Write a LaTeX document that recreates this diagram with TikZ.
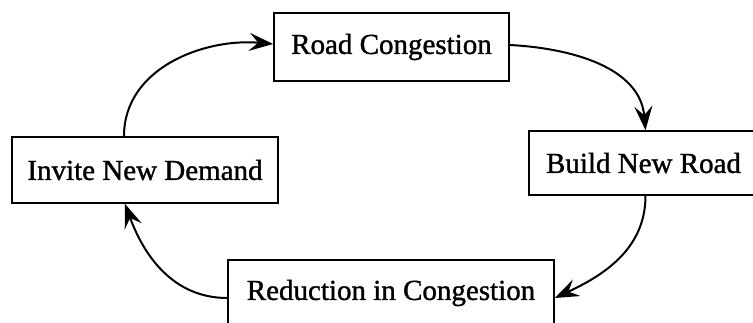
\documentclass[tikz,border=0pt]{standalone}
\usepackage{fontspec}
\setmainfont{Liberation Serif}[BoldFont=Liberation Serif, BoldFeatures={FakeBold=1.2}]
\usetikzlibrary{arrows.meta,calc}
\tikzset{
  box/.style={draw, line width=1.6pt, inner sep=0pt, align=center,
    font=\fontsize{29}{34}\selectfont\bfseries},
  flow/.style={line width=2pt, -{Stealth[length=24pt,width=18pt,inset=9pt]}}
}
\begin{document}
\begin{tikzpicture}[x=1pt,y=1pt]
\useasboundingbox (0,0) rectangle (753,323);
\clip (0,0) rectangle (753,323);
\node[box, minimum width=235pt, minimum height=68pt] (rc) at (391.5,276) {Road Congestion};
\node[box, minimum width=229pt, minimum height=64pt] (bnr) at (643.5,160) {Build New Road};
\node[box, minimum width=266pt, minimum height=66pt] (ind) at (145,153) {Invite New Demand};
\node[box, minimum width=326pt, minimum height=66pt] (ric) at (391,30) {Reduction in Congestion};
\draw[flow] ($(ind.north)+(-21pt,0)$) to[out=90,in=175] ($(rc.west)+(0,3pt)$);
\draw[flow] ($(rc.east)+(0,2pt)$) to[out=-3,in=95] ($(bnr.north)+(2pt,0)$);
\draw[flow] ($(bnr.south)+(2pt,0)$) to[out=-90,in=25] ($(ric.east)+(0,-5pt)$);
\draw[flow] ($(ric.west)+(0,-5pt)$) to[out=180,in=-70] ($(ind.south)+(-20pt,0)$);
\end{tikzpicture}
\end{document}
